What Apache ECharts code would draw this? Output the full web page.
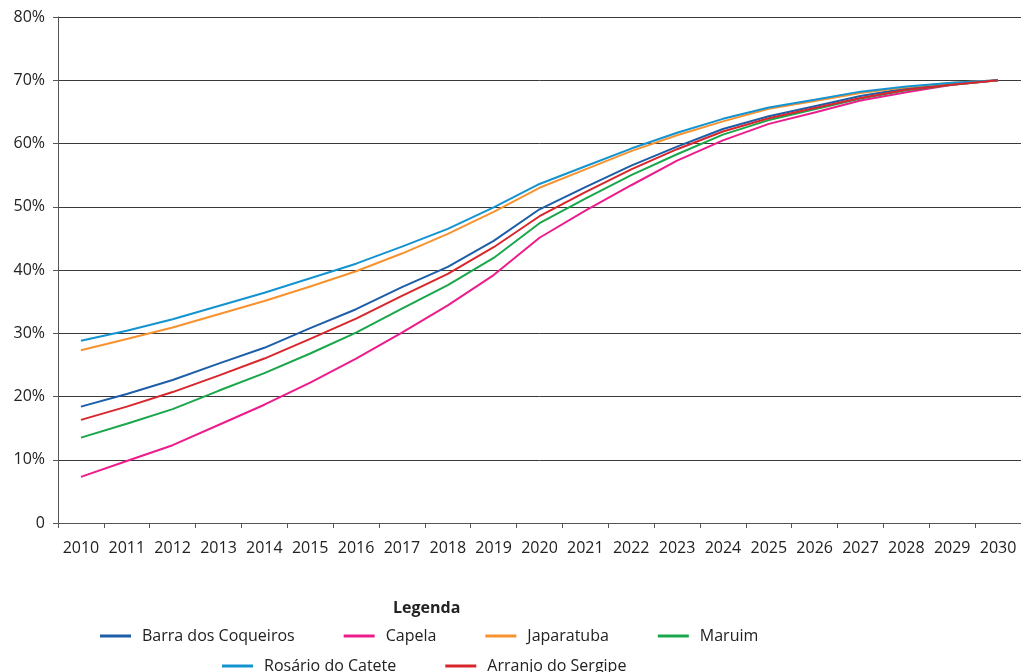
<!DOCTYPE html>
<html>
<head>
<meta charset="utf-8">
<script src="https://cdn.jsdelivr.net/npm/echarts@6/dist/echarts.min.js"></script>
<style>
    html, body { margin: 0; padding: 0; background: #fff; }
    #chart { width: 1021px; height: 672px; }
</style>
</head>
<body>
<div id="chart"></div>
<script>
var years = ['2010', '2011', '2012', '2013', '2014', '2015', '2016', '2017', '2018', '2019', '2020',
    '2021', '2022', '2023', '2024', '2025', '2026', '2027', '2028', '2029', '2030'];

var barraDosCoqueiros = [18.4, 20.4, 22.6, 25.2, 27.7, 30.8, 33.8, 37.3, 40.5, 44.6, 49.6, 53.1, 56.5, 59.5, 62.3, 64.3, 65.9, 67.5, 68.7, 69.4, 70.0];
var capela = [7.3, 9.8, 12.3, 15.5, 18.7, 22.2, 26.0, 30.1, 34.4, 39.2, 45.1, 49.4, 53.4, 57.3, 60.5, 63.1, 64.9, 66.8, 68.1, 69.3, 70.0];
var japaratuba = [27.3, 29.1, 30.9, 33.0, 35.1, 37.4, 39.8, 42.6, 45.7, 49.2, 53.0, 55.9, 58.8, 61.3, 63.5, 65.5, 66.7, 68.0, 68.9, 69.6, 70.0];
var maruim = [13.5, 15.7, 18.0, 20.9, 23.7, 26.8, 30.1, 33.9, 37.6, 41.9, 47.4, 51.3, 55.0, 58.3, 61.4, 63.7, 65.4, 67.1, 68.4, 69.3, 70.0];
var rosarioDoCatete = [28.8, 30.4, 32.2, 34.3, 36.4, 38.7, 41.0, 43.7, 46.5, 49.9, 53.6, 56.4, 59.2, 61.7, 63.9, 65.7, 66.9, 68.2, 69.0, 69.6, 70.0];
var arranjoDoSergipe = [16.3, 18.4, 20.7, 23.3, 26.0, 29.1, 32.3, 35.9, 39.4, 43.6, 48.5, 52.3, 55.9, 59.1, 61.9, 64.0, 65.6, 67.2, 68.5, 69.3, 70.0];

var seriesList = [
    {name: 'Barra dos Coqueiros', color: '#1c5ea8', data: barraDosCoqueiros},
    {name: 'Capela', color: '#ec1c8c', data: capela},
    {name: 'Japaratuba', color: '#f7922e', data: japaratuba},
    {name: 'Maruim', color: '#1aa64b', data: maruim},
    {name: 'Rosário do Catete', color: '#1493d1', data: rosarioDoCatete},
    {name: 'Arranjo do Sergipe', color: '#d9262c', data: arranjoDoSergipe}
];

var font = '"Open Sans", "Noto Sans", sans-serif';

var myChart = echarts.init(document.getElementById('chart'));

var seriesData = [];
seriesList.forEach(function (s) {
    seriesData.push({
        name: s.name,
        type: 'line',
        symbol: 'none',
        color: s.color,
        lineStyle: {width: 2, color: s.color},
        data: s.data
    });
});

// legend marks are plain short bars, like the line keys in the original
var legendBase = {
    orient: 'horizontal',
    icon: 'rect',
    itemWidth: 31,
    itemHeight: 3,
    itemGap: 49,
    textStyle: {color: '#222', fontSize: 16, fontFamily: font, padding: [0, 0, 0, 6]}
};

var option = {
    animation: false,
    title: {
        text: 'Legenda',
        left: 388,
        top: 595,
        textStyle: {color: '#222', fontSize: 16, fontWeight: 'bold', fontFamily: font}
    },
    legend: [
        Object.assign({}, legendBase, {
            left: 95,
            top: 623,
            data: ['Barra dos Coqueiros', 'Capela', 'Japaratuba', 'Maruim']
        }),
        Object.assign({}, legendBase, {
            left: 217,
            top: 653,
            data: ['Rosário do Catete', 'Arranjo do Sergipe']
        })
    ],
    grid: {
        left: 58,
        right: 0,
        top: 17,
        bottom: 149,
        containLabel: false
    },
    xAxis: {
        type: 'category',
        data: years,
        boundaryGap: true,
        axisLine: {show: true, lineStyle: {color: '#555', width: 1}},
        axisTick: {show: true, length: 5, lineStyle: {color: '#555'}},
        axisLabel: {
            interval: 0,
            margin: 17,
            color: '#222',
            fontSize: 16,
            fontFamily: font
        },
        splitLine: {show: false}
    },
    yAxis: {
        type: 'value',
        min: 0,
        max: 80,
        interval: 10,
        axisLine: {show: true, lineStyle: {color: '#555', width: 1}},
        axisTick: {show: true, length: 5, lineStyle: {color: '#555'}},
        axisLabel: {
            margin: 13,
            color: '#222',
            fontSize: 16,
            fontFamily: font,
            formatter: function (v) {
                return v === 0 ? '0' : v + '%';
            }
        },
        splitLine: {
            show: true,
            lineStyle: {color: '#3a3a3a', width: 1}
        }
    },
    series: seriesData
};
myChart.setOption(option);
</script>
</body>
</html>
